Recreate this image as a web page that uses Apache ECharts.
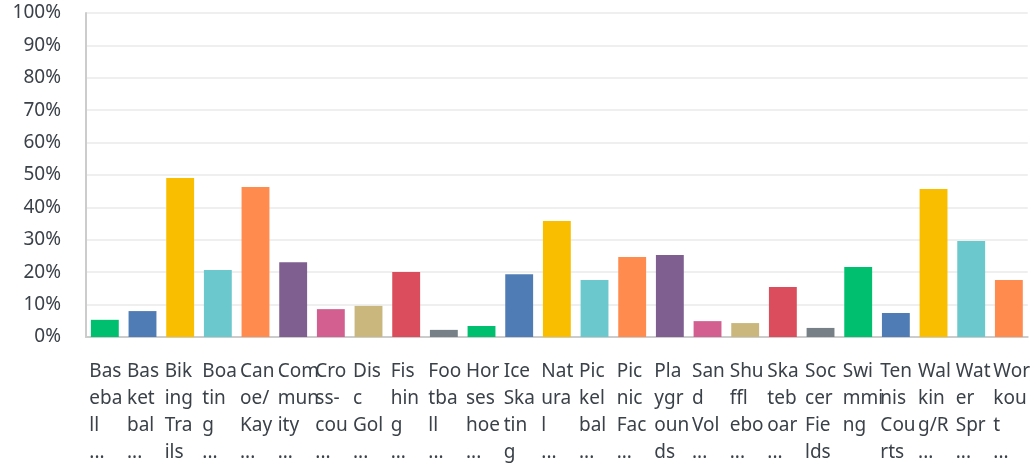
<!DOCTYPE html>
<html>
<head>
<meta charset="utf-8">
<script src="https://cdn.jsdelivr.net/npm/echarts@6/dist/echarts.min.js"></script>
<style>
html, body { margin: 0; padding: 0; background: #fff; }
#chart { width: 1033px; height: 470px; }
</style>
</head>
<body>
<div id="chart"></div>
<script>
// amenities (full names, the axis shows them cut into short lines)
const categories = [
  'Baseball Fields', 'Basketball Courts', 'Biking Trails', 'Boating Access',
  'Canoe/Kayak Launch', 'Community Centers', 'Cross-country Skiing',
  'Disc Golf Course', 'Fishing Areas', 'Football Fields', 'Horseshoe Pits',
  'Ice Skating', 'Natural Areas', 'Pickelball Courts', 'Picnic Facilities',
  'Playgrounds', 'Sand Volleyball', 'Shuffleboard Courts', 'Skateboard Park',
  'Soccer Fields', 'Swimming', 'Tennis Courts', 'Walking/Running Trails',
  'Water Spray Parks', 'Workout Equipment'
]
// percent of responses
const values = [
  5.3, 8.0, 49.1, 20.7, 46.3, 23.1, 8.6, 9.6, 20.1, 2.2, 3.4, 19.4, 35.8,
  17.6, 24.7, 25.3, 4.9, 4.3, 15.4, 2.8, 21.6, 7.4, 45.7, 29.6, 17.6
]
const yTicks = [0, 10, 20, 30, 40, 50, 60, 70, 80, 90, 100]
const palette = ['#00BF6F', '#507CB6', '#F9BE00', '#6BC8CD', '#FF8B4F',
  '#7F5F90', '#D25F90', '#C9B77D', '#DB4D5C', '#768086']

// narrow columns: every word is broken into 3-letter pieces, max 4 lines
function wrapLabel(name) {
  let lines = []
  name.split(' ').forEach(word => {
    for (let i = 0; i < word.length; i += 3) {
      lines.push(word.slice(i, i + 3))
    }
  })
  if (lines.length > 4) {
    lines = lines.slice(0, 3).concat(['...'])
  }
  return lines.map(l => '{a|' + l + '}').join('\n')
}

const myChart = echarts.init(document.getElementById('chart'))
const textColor = '#3a4149'
const font = "'Noto Sans', sans-serif"

let option = {
  animation: false,
  color: palette,
  grid: { left: 86, right: 5, top: 13, bottom: 133 },
  xAxis: {
    type: 'category',
    data: categories,
    axisLine: { lineStyle: { color: '#cccccc', width: 2 } },
    axisTick: { show: false },
    axisLabel: {
      interval: 0,
      margin: 21,
      align: 'center',
      formatter: wrapLabel,
      rich: {
        a: {
          width: 31,
          align: 'left',
          fontSize: 19,
          lineHeight: 27,
          color: textColor,
          fontFamily: font
        }
      }
    }
  },
  yAxis: {
    type: 'value',
    min: yTicks[0],
    max: yTicks[yTicks.length - 1],
    interval: yTicks[1] - yTicks[0],
    axisLine: { show: true, lineStyle: { color: '#cccccc', width: 2 } },
    axisTick: { show: false },
    splitLine: { lineStyle: { color: '#efefef', width: 2 } },
    axisLabel: {
      margin: 25,
      fontSize: 19,
      color: textColor,
      fontFamily: font,
      formatter: '{value}%'
    }
  },
  series: [
    {
      type: 'bar',
      colorBy: 'data',
      barCategoryGap: '26%',
      data: values
    }
  ]
}
myChart.setOption(option)
</script>
</body>
</html>
